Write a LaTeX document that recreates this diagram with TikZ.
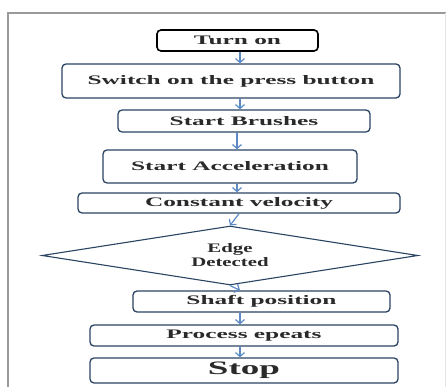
\documentclass[tikz,border=0pt]{standalone}
\usepackage{fontspec}
\usepackage{pgf,tikz}
\usetikzlibrary{arrows.meta}
\usetikzlibrary{shapes.geometric,calc}
\newfontfamily\flowfont[FakeStretch=1.95]{Liberation Serif}
\newfontfamily\edgefont[FakeStretch=1.6]{Liberation Serif}
\definecolor{boxnavy}{HTML}{2B4463}
\definecolor{flowblue}{HTML}{5C8AC4}
\definecolor{framegray}{HTML}{9A9A9A}
\definecolor{inkgray}{HTML}{2A2A2A}
\tikzset{stepbox/.style={draw=boxnavy, line width=1.3pt, rounded corners=4pt, fill=white, inner sep=0pt, text=inkgray, font=\flowfont\bfseries\fontsize{13}{15}\selectfont}, startbox/.style={stepbox, draw=black, line width=1.6pt}, testbox/.style={diamond, aspect=6.37, draw=boxnavy, line width=1.1pt, inner sep=0pt, align=center, text=inkgray, font=\edgefont\bfseries\fontsize{13}{14}\selectfont}, flow/.style={draw=flowblue, line width=1.2pt, -{Straight Barb[length=4pt,width=9pt]}}}

\begin{document}
\begin{tikzpicture}[x=1pt,y=-1pt]
\useasboundingbox (0,0) rectangle (446,387);
\draw[framegray, line width=1.6pt] (8,387) -- (8,13) -- (446,13);
\draw[gray!20, line width=0.6pt] (445.5,13) -- (445.5,387);
\coordinate (axis) at (240,0);
\node[startbox, minimum width=161pt, minimum height=21pt] (on) at (237.5,40.5) {Turn on};
\node[stepbox, minimum width=338pt, minimum height=34pt] (press) at (231,81) {Switch on the press button};
\node[stepbox, minimum width=252pt, minimum height=22pt] (brush) at (244,121) {Start Brushes};
\node[stepbox, minimum width=254pt, minimum height=33pt] (accel) at (230,166.5) {Start Acceleration};
\node[stepbox, minimum width=322pt, minimum height=20pt] (velo) at (239,203) {Constant velocity};
\node[testbox, minimum width=376pt, minimum height=59pt] (edge) at (230,255.5) {Edge\\Detected};
\node[stepbox, minimum width=257pt, minimum height=21pt] (shaft) at (261.5,301.5) {Shaft position};
\node[stepbox, minimum width=308pt, minimum height=21pt] (again) at (244,335.5) {Process epeats};
\node[stepbox, minimum width=308pt, minimum height=25pt, font=\flowfont\bfseries\fontsize{19}{21}\selectfont] (stop) at (244,370.5) {Stop};
\draw[flow] (axis |- on.south) -- (axis |- press.north);
\draw[flow] (axis |- press.south) -- (axis |- brush.north);
\draw[flow] ($(axis |- brush.south)+(-3,0)$) -- ($(axis |- accel.north)+(-3,0)$);
\draw[flow] ($(axis |- accel.south)+(-3,0)$) -- ($(axis |- velo.north)+(-3,0)$);
\draw[flow] (velo.south) -- (edge.north);
\draw[flow] (edge.south) -- (axis |- shaft.north);
\draw[flow] (axis |- shaft.south) -- (axis |- again.north);
\draw[flow] (axis |- again.south) -- (axis |- stop.north);
\end{tikzpicture}
\end{document}
